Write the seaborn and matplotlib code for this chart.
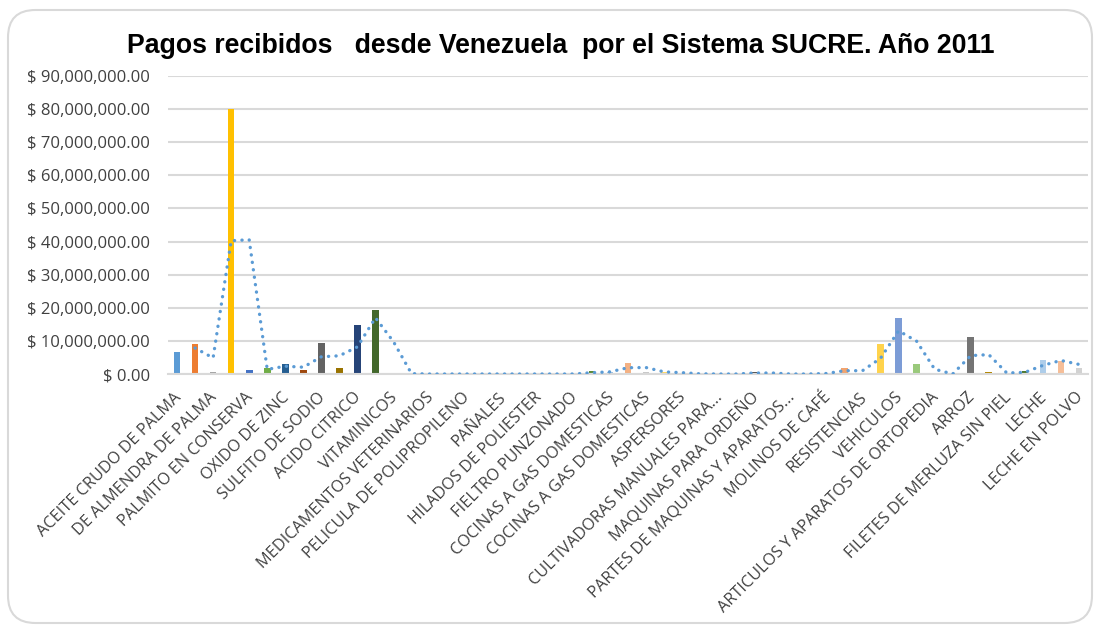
import colorsys
import numpy as np
import pandas as pd
import matplotlib
matplotlib.use("Agg")
import matplotlib.pyplot as plt
from matplotlib.patches import FancyBboxPatch
from matplotlib.ticker import FuncFormatter
from matplotlib.transforms import ScaledTranslation
import seaborn as sns

# ---------------- data ----------------
labels_shown = [
    "ACEITE CRUDO DE PALMA", "DE ALMENDRA DE PALMA", "PALMITO EN CONSERVA",
    "OXIDO DE ZINC", "SULFITO DE SODIO", "ACIDO CITRICO", "VITAMINICOS",
    "MEDICAMENTOS VETERINARIOS", "PELICULA DE POLIPROPILENO", "PAÑALES",
    "HILADOS DE POLIESTER", "FIELTRO PUNZONADO", "COCINAS A GAS DOMESTICAS",
    "COCINAS A GAS DOMESTICAS", "ASPERSORES", "CULTIVADORAS MANUALES PARA...",
    "MAQUINAS PARA ORDEÑO", "PARTES DE MAQUINAS Y APARATOS...", "MOLINOS DE CAFÉ",
    "RESISTENCIAS", "VEHICULOS", "ARTICULOS Y APARATOS DE ORTOPEDIA", "ARROZ",
    "FILETES DE MERLUZA SIN PIEL", "LECHE", "LECHE EN POLVO",
]
# payments in millions of USD, one per product (51 products)
values_m = [
    6.5, 9.2, 0.5, 80.0, 1.1, 1.7, 3.0, 1.1, 9.3, 1.7,
    14.7, 19.3, 0.2, 0.0, 0.0, 0.0, 0.0, 0.0, 0.0, 0.0,
    0.0, 0.0, 0.0, 0.8, 0.5, 3.3, 0.6, 0.7, 0.1, 0.0,
    0.0, 0.0, 0.6, 0.0, 0.0, 0.0, 0.3, 1.7, 0.3, 9.2,
    16.9, 2.9, 0.0, 0.0, 11.1, 0.6, 0.0, 1.0, 4.2, 4.0,
    1.8,
]
values = [v * 1e6 for v in values_m]
n = len(values)

# Excel "vary colors by point" palette
accents = ['#5B9BD5', '#ED7D31', '#A5A5A5', '#FFC000', '#4472C4', '#70AD47']
lum_mods = [(1, 0), (0.6, 0), (0.8, 0.2), (0.8, 0), (0.6, 0.4),
            (0.5, 0), (0.7, 0.3), (0.7, 0), (0.5, 0.5)]


def excel_color(i):
    base = matplotlib.colors.to_rgb(accents[i % 6])
    mod, off = lum_mods[(i // 6) % len(lum_mods)]
    h, l, s = colorsys.rgb_to_hls(*base)
    l = min(1.0, l * mod + off)
    return colorsys.hls_to_rgb(h, l, s)


keys = [f"p{i:02d}" for i in range(n)]
palette = {k: excel_color(i) for i, k in enumerate(keys)}

df = pd.DataFrame({"key": keys, "valor": values})
ma = pd.Series(values).rolling(2).mean()
df_ma = pd.DataFrame({"pos": list(range(n)), "ma": ma}).dropna()

# ---------------- plot ----------------
sns.set_theme(style="white")
plt.rcParams['font.family'] = ['Open Sans', 'DejaVu Sans']

fig = plt.figure(figsize=(10.96, 6.28), dpi=100)
ax = fig.add_axes([168 / 1096, 1 - 374 / 628, (1088 - 168) / 1096, (374 - 76) / 628])

sns.barplot(data=df, x="key", y="valor", hue="key", palette=palette, order=keys,
            hue_order=keys, dodge=False, legend=False, width=0.37,
            saturation=1, linewidth=0, ax=ax)
sns.lineplot(data=df_ma, x="pos", y="ma", ax=ax, color="#5B9BD5",
             linewidth=2.4, linestyle=(0, (0.05, 2.2)), dash_capstyle="round",
             zorder=5)

ax.set_xlim(-0.5, n - 0.5)
ax.set_ylim(0, 90e6)
ax.set_yticks(np.arange(0, 90e6 + 1, 10e6))
ax.yaxis.set_major_formatter(FuncFormatter(lambda v, p: f"$ {v:,.2f}"))
ax.grid(axis="y", color="#D9D9D9", linewidth=1.5)
ax.set_axisbelow(True)
for s in ["top", "right", "left"]:
    ax.spines[s].set_visible(False)
ax.spines["bottom"].set_color("#D9D9D9")
ax.spines["bottom"].set_linewidth(1.5)
ax.set_xlabel("")
ax.set_ylabel("")
ax.tick_params(axis="y", labelsize=12, labelcolor="#404040", length=0, pad=13)

ax.set_xticks(list(range(0, n, 2)))
ax.set_xticklabels(labels_shown, rotation=45, ha="right", va="top",
                   rotation_mode="anchor", fontsize=11.7, color="#404040")
ax.tick_params(axis="x", length=0, pad=11)
shift = ScaledTranslation(-4 / 100, 0, fig.dpi_scale_trans)
for lab in ax.get_xticklabels():
    lab.set_transform(lab.get_transform() + shift)

fig.text(561 / 1096, 1 - 46 / 628,
         "Pagos recibidos   desde Venezuela  por el Sistema SUCRE. Año 2011",
         ha="center", va="center", fontsize=19.2, fontweight="bold",
         family=["Liberation Sans", "DejaVu Sans"], color="black")

border = FancyBboxPatch((8 / 1096, 5 / 628), (1092 - 8) / 1096, (618 - 5) / 628,
                        boxstyle="round,pad=0,rounding_size=0.025",
                        transform=fig.transFigure, facecolor="none",
                        edgecolor="#D9D9D9", linewidth=1.5, mutation_aspect=1096 / 628)
fig.patches.append(border)

fig.savefig("out.png", dpi=100, facecolor="white")
